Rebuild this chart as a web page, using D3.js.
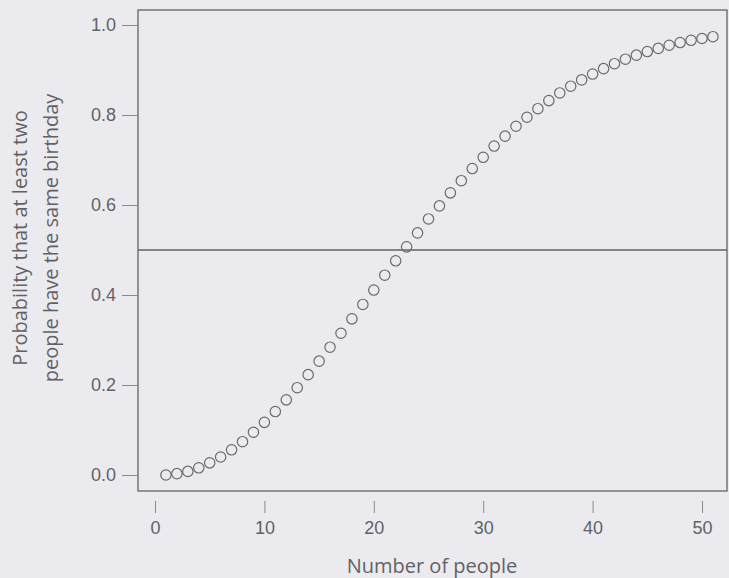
<!DOCTYPE html>
<html>
<head>
<meta charset="utf-8">
<script src="https://cdn.jsdelivr.net/npm/d3@7"></script>
<style>
  body { margin: 0; background: #ebebef; }
  svg { display: block; font-family: "Open Sans", sans-serif; }
</style>
</head>
<body>
<svg width="729" height="578"></svg>
<script>
// number of people in the room
var people = d3.range(1, 52);
// probability that at least two share a birthday
var prob = [0.000, 0.003, 0.008, 0.016, 0.027, 0.040, 0.056, 0.074, 0.095, 0.117,
            0.141, 0.167, 0.194, 0.223, 0.253, 0.284, 0.315, 0.347, 0.379, 0.411,
            0.444, 0.476, 0.507, 0.538, 0.569, 0.598, 0.627, 0.654, 0.681, 0.706,
            0.731, 0.753, 0.775, 0.795, 0.814, 0.832, 0.849, 0.864, 0.878, 0.891,
            0.903, 0.914, 0.924, 0.933, 0.941, 0.948, 0.955, 0.961, 0.966, 0.970,
            0.974];
var xTicks = [0, 10, 20, 30, 40, 50];
var yTicks = [0, 0.2, 0.4, 0.6, 0.8, 1.0];

var svg = d3.select('svg');
var ink = '#626266';

var x = d3.scaleLinear().domain([0, 50]).range([155, 702]);
var y = d3.scaleLinear().domain([0, 1]).range([475, 25]);

// frame
svg.append('rect')
   .attr('x', 138).attr('y', 10)
   .attr('width', 589).attr('height', 481)
   .attr('fill', 'none')
   .attr('stroke', ink).attr('stroke-width', 1.3);

// axes
var xAxis = svg.append('g')
   .attr('transform', 'translate(0,491)')
   .call(d3.axisBottom(x).tickValues(xTicks).tickSize(22).tickPadding(8)
           .tickFormat(d3.format('d')));
var yAxis = svg.append('g')
   .attr('transform', 'translate(138,0)')
   .call(d3.axisLeft(y).tickValues(yTicks).tickSize(16).tickPadding(6)
           .tickFormat(d3.format('.1f')));

[xAxis, yAxis].forEach(function(g) {
  g.select('.domain').remove();
  g.selectAll('line').attr('stroke', '#8a8a8e').attr('stroke-width', 1);
  g.selectAll('text').attr('fill', ink).style('font-size', '18px');
});
xAxis.selectAll('line').attr('y1', 10);

// 0.5 reference line
svg.append('line')
   .attr('x1', 138).attr('x2', 727)
   .attr('y1', y(0.5)).attr('y2', y(0.5))
   .attr('stroke', ink).attr('stroke-width', 1.3);

// points
svg.selectAll('circle')
   .data(people)
   .enter()
   .append('circle')
   .attr('cx', function(d) { return x(d); })
   .attr('cy', function(d, i) { return y(prob[i]); })
   .attr('r', 5.2)
   .attr('fill', 'none')
   .attr('stroke', '#6a6a6e')
   .attr('stroke-width', 1.2);

// axis titles
svg.append('text')
   .attr('x', 432).attr('y', 573)
   .attr('text-anchor', 'middle')
   .attr('fill', ink).style('font-size', '20px')
   .text('Number of people');

var yt = svg.append('text')
   .attr('transform', 'translate(0,238) rotate(-90)')
   .attr('text-anchor', 'middle')
   .attr('fill', ink).style('font-size', '20px');
yt.append('tspan').attr('x', 0).attr('y', 27).text('Probability that at least two');
yt.append('tspan').attr('x', 0).attr('y', 58).text('people have the same birthday');
</script>
</body>
</html>
